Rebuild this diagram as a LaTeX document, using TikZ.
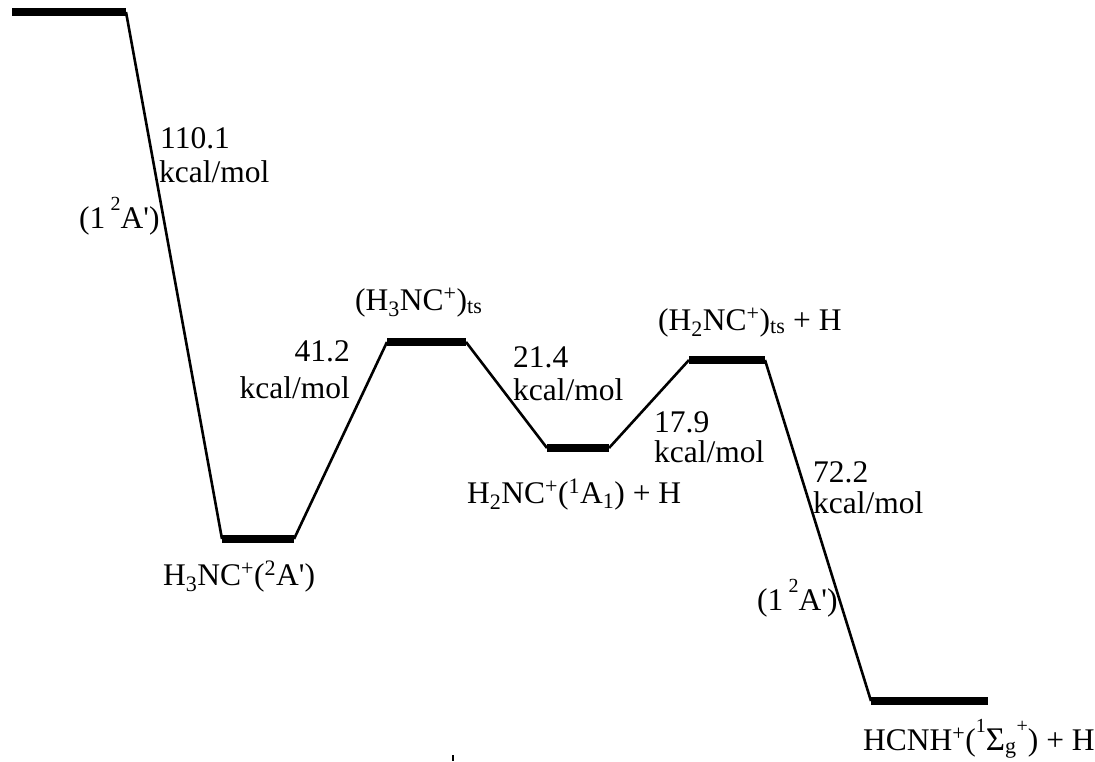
\documentclass[tikz,border=0pt]{standalone}
\usepackage{fontspec}
\newfontfamily\tnr{Liberation Serif}
\newcommand{\supr}[1]{\raisebox{0.55em}{\fontsize{20}{20}\selectfont #1}}
\begin{document}
\begin{tikzpicture}[x=1pt,y=-1pt,
  level/.style={line width=8pt},
  conn/.style={line width=2.6pt},
  lbl/.style={anchor=base west,inner sep=0pt,font=\tnr\fontsize{31.5}{34}\selectfont},
  lblr/.style={anchor=base east,inner sep=0pt,font=\tnr\fontsize{31.5}{34}\selectfont}]
\useasboundingbox (0,0) rectangle (1095,761);
% levels
\coordinate (l1a) at (12,12);   \coordinate (l1b) at (126,12);
\coordinate (l2a) at (222,539); \coordinate (l2b) at (294,539);
\coordinate (l3a) at (387,342); \coordinate (l3b) at (466,342);
\coordinate (l4a) at (547,448); \coordinate (l4b) at (609,448);
\coordinate (l5a) at (689,360); \coordinate (l5b) at (765,360);
\coordinate (l6a) at (871,701); \coordinate (l6b) at (988,701);
\draw[level] (l1a) -- (l1b);
\draw[level] (l2a) -- (l2b);
\draw[level] (l3a) -- (l3b);
\draw[level] (l4a) -- (l4b);
\draw[level] (l5a) -- (l5b);
\draw[level] (l6a) -- (l6b);
% connectors
\draw[conn] (l1b) -- (l2a);
\draw[conn] (l2b) -- (l3a);
\draw[conn] (l3b) -- (l4a);
\draw[conn] (l4b) -- (l5a);
\draw[conn] (l5b) -- (l6a);
% small tick
\coordinate (t1) at (453,755); \coordinate (t2) at (453,761);
\draw[line width=2pt] (t1) -- (t2);
% labels
\node[lbl] (e1) at (160,148) {110.1};
\node[lbl] (k1) at (159,182) {kcal/mol};
\node[lbl] (s1) at (79,228) {(1\,\supr{2}A')};
\node[lblr] (e2) at (350,361) {41.2};
\node[lblr] (k2) at (350,398) {kcal/mol};
\node[lbl] (n3) at (355,310) {(H\textsubscript{3}NC\textsuperscript{+})\textsubscript{ts}};
\node[lbl] (n2) at (163,585) {H\textsubscript{3}NC\textsuperscript{+}(\textsuperscript{2}A')};
\node[lbl] (e3) at (513,367) {21.4};
\node[lbl] (k3) at (513,400) {kcal/mol};
\node[lbl] (e4) at (654,432) {17.9};
\node[lbl] (k4) at (654,462) {kcal/mol};
\node[lbl] (n4) at (467,503) {H\textsubscript{2}NC\textsuperscript{+}(\textsuperscript{1}A\textsubscript{1}) + H};
\node[lbl] (n5) at (658,330) {(H\textsubscript{2}NC\textsuperscript{+})\textsubscript{ts} + H};
\node[lbl] (e5) at (813,482) {72.2};
\node[lbl] (k5) at (813,513) {kcal/mol};
\node[lbl] (s2) at (757,610) {(1\,\supr{2}A')};
\node[lbl] (n6) at (863,750) {HCNH\textsuperscript{+}(\supr{1}{\fontsize{33}{33}\selectfont Σ}\textsubscript{g}\supr{+}) + H};
\end{tikzpicture}
\end{document}
